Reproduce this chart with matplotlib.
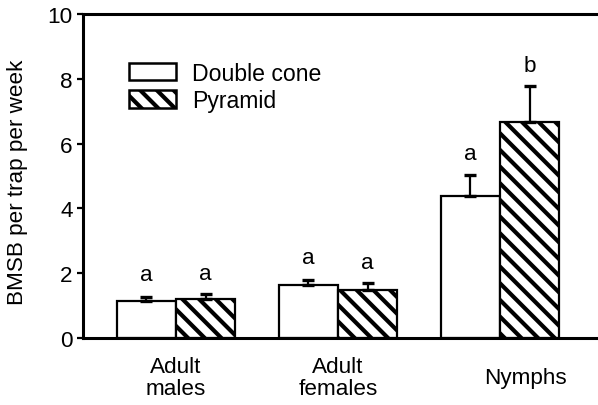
import matplotlib
matplotlib.use("Agg")
import matplotlib.pyplot as plt
from matplotlib.patches import Patch
import numpy as np

plt.rcParams['font.family'] = ['Liberation Sans', 'DejaVu Sans']
plt.rcParams['hatch.linewidth'] = 3.0

# Mean captures and upper standard error for each life stage
categories = ["Adult\nmales", "Adult\nfemales", "Nymphs"]
series_names = ["Double cone", "Pyramid"]
double_cone = [1.14, 1.64, 4.38]
double_cone_err = [0.13, 0.15, 0.65]
pyramid = [1.20, 1.48, 6.67]
pyramid_err = [0.16, 0.22, 1.11]
double_cone_letters = ["a", "a", "a"]
pyramid_letters = ["a", "a", "b"]
y_ticks = [0, 2, 4, 6, 8, 10]

fig = plt.figure(figsize=(5.98, 4.06), dpi=100)
ax = fig.add_axes([0.1388, 0.165, 0.8612, 0.798])

x = np.arange(1, len(categories) + 1)
width = 0.365
fs = 16.2

bar_kw = dict(width=width, edgecolor="black", linewidth=1.6, zorder=2)
err_kw = dict(ecolor="black", elinewidth=1.6, capsize=4.5, capthick=2.4)

b1 = ax.bar(x - width / 2, double_cone, facecolor="white",
            yerr=[np.zeros(len(x)), double_cone_err], error_kw=err_kw, **bar_kw)
b2 = ax.bar(x + width / 2, pyramid, facecolor="white", hatch="\\\\",
            yerr=[np.zeros(len(x)), pyramid_err], error_kw=err_kw, **bar_kw)

# Significance letters above each error bar
for xi, v, e, s in zip(x - width / 2, double_cone, double_cone_err, double_cone_letters):
    ax.text(xi, v + e + 0.68, s, ha="center", va="center", fontsize=fs)
for xi, v, e, s in zip(x + width / 2, pyramid, pyramid_err, pyramid_letters):
    ax.text(xi, v + e + 0.62, s, ha="center", va="center", fontsize=fs)

ax.set_ylim(0, 10)
ax.set_xlim(1 - 93 / 162, 1 + 422 / 162)
ax.set_yticks(y_ticks)
ax.set_yticklabels([str(t) for t in y_ticks], fontsize=fs)
ax.tick_params(axis="y", direction="out", length=4.5, width=1.6, pad=3)

ax.set_xticks([1, 2, 3.16])
ax.set_xticklabels(categories, fontsize=fs, linespacing=1.05)
ax.tick_params(axis="x", length=0, pad=28.5)
for lbl in ax.get_xticklabels():
    lbl.set_verticalalignment("center")

for side in ("left", "bottom", "top"):
    ax.spines[side].set_linewidth(2.2)
ax.spines["right"].set_visible(False)

ax.set_ylabel("BMSB per trap per week", fontsize=fs)
ax.yaxis.set_label_coords(-0.107, 0.485)

handles = [Patch(facecolor="white", edgecolor="black", linewidth=1.8),
           Patch(facecolor="white", edgecolor="black", linewidth=1.8, hatch="\\\\")]
ax.legend(handles, series_names, loc="upper left", bbox_to_anchor=(0.089, 0.853),
          frameon=False, fontsize=16.6, handlelength=2.05, handleheight=0.8,
          handletextpad=0.7, labelspacing=0.2, borderpad=0, borderaxespad=0)

fig.savefig("out.png", dpi=100)
